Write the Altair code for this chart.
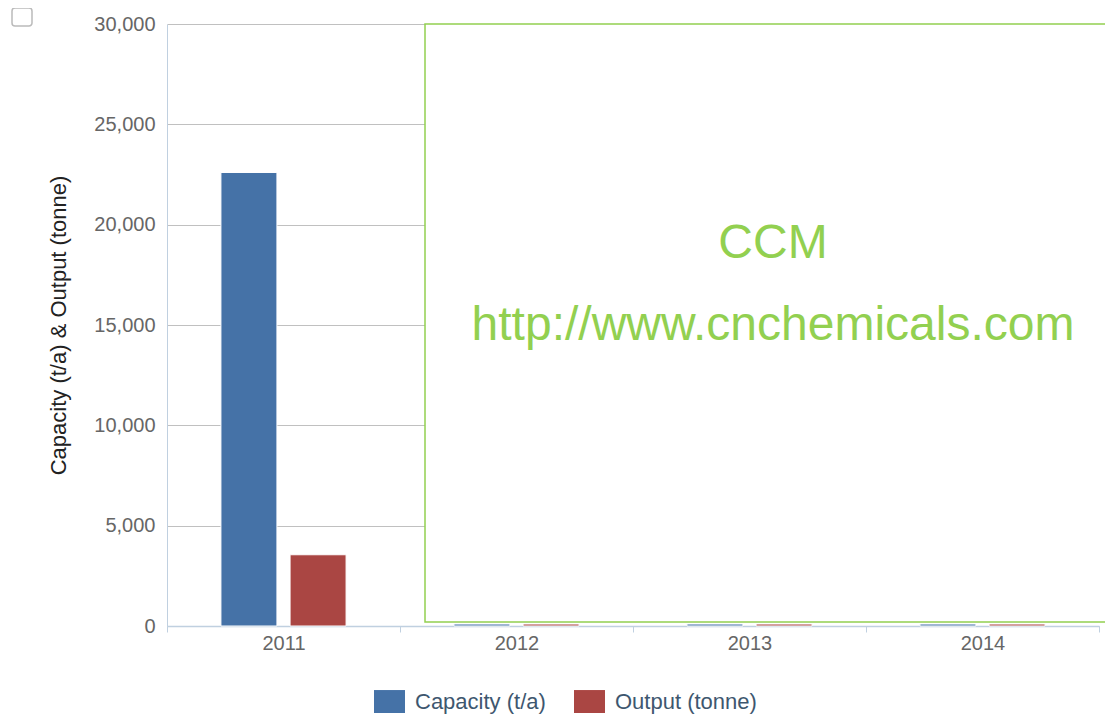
import altair as alt
import pandas as pd

years = ["2011", "2012", "2013", "2014"]
series = ["Capacity (t/a)", "Output (tonne)"]
capacity = [22600, 100, 100, 100]
output = [3550, 100, 100, 100]
colors = ["#4572A7", "#AA4643"]
y_ticks = [0, 5000, 10000, 15000, 20000, 25000, 30000]
y_title = "Capacity (t/a) & Output (tonne)"
watermark = ["CCM", "http://www.cnchemicals.com"]

rows = []
for i, yr in enumerate(years):
    rows.append({"year": yr, "series": series[0], "value": capacity[i]})
    rows.append({"year": yr, "series": series[1], "value": output[i]})
df = pd.DataFrame(rows)

W, H = 932, 602
FONT = "Liberation Sans"

x = alt.X("year:N", sort=years, scale=alt.Scale(paddingInner=0, paddingOuter=0),
          axis=alt.Axis(title=None, labelAngle=0, labelFontSize=20, labelColor="#666666",
                        labelFont=FONT, labelPadding=1, tickBand="extent", tickSize=6,
                        tickColor="#C0D0E0", domainColor="#C0D0E0", domainWidth=1.5, grid=False))
xo = alt.XOffset("series:N", sort=series, scale=alt.Scale(paddingInner=0.19, paddingOuter=0.78))
y = alt.Y("value:Q", scale=alt.Scale(domain=[0, 30000], nice=False),
          axis=alt.Axis(values=y_ticks, format=",d", title=y_title, titleFontSize=22,
                        titleFont=FONT, titleColor="#222222", titleFontWeight="normal",
                        titleAngle=270, titleX=-109, titleY=301, titleAlign="center",
                        titleBaseline="middle", labelFontSize=20, labelColor="#666666",
                        labelFont=FONT, labelPadding=12, ticks=False, gridColor="#C0C0C0",
                        domainColor="#C0D0E0"))
color = alt.Color("series:N", sort=series, scale=alt.Scale(domain=series, range=colors),
                  legend=alt.Legend(orient="none", legendX=207, legendY=662, direction="horizontal",
                                    title=None, symbolType="M-1,-0.74H1V0.74H-1Z", symbolSize=961,
                                    symbolStrokeWidth=0, symbolOpacity=1, labelFontSize=22,
                                    labelFont=FONT, labelColor="#3E576F", labelOffset=10,
                                    columnPadding=28, padding=0))

shadow = alt.Chart(df).mark_bar(color="#000000", opacity=0.1, xOffset=2).encode(x=x, xOffset=xo, y=y)
bars = alt.Chart(df).mark_bar(stroke="white", strokeWidth=1).encode(x=x, xOffset=xo, y=y, color=color)

box = alt.Chart(alt.Data(values=[{}])).mark_rect(fill="white", stroke="#92D050", strokeWidth=1.5).encode(
    x=alt.value(258), x2=alt.value(975), y=alt.value(0), y2=alt.value(598))
t1 = alt.Chart(alt.Data(values=[{"t": watermark[0]}])).mark_text(
    font=FONT, fontSize=48, color="#92D050", align="center", baseline="middle").encode(
    text="t:N", x=alt.value(606), y=alt.value(220))
t2 = alt.Chart(alt.Data(values=[{"t": watermark[1]}])).mark_text(
    font=FONT, fontSize=48, color="#92D050", align="center", baseline="middle").encode(
    text="t:N", x=alt.value(606), y=alt.value(302))
checkbox = alt.Chart(alt.Data(values=[{}])).mark_rect(
    fill="white", stroke="#BBBBBB", strokeWidth=1.5, cornerRadius=3).encode(
    x=alt.value(-155), x2=alt.value(-135), y=alt.value(-16), y2=alt.value(2))

chart = alt.layer(shadow, bars, box, t1, t2, checkbox).properties(
    width=W, height=H,
    autosize=alt.AutoSizeParams(type="none"),
    padding={"left": 159, "top": 16, "right": 6, "bottom": 93},
).configure_view(stroke=None)

chart.save("out.html", embed_options={"renderer": "svg", "actions": False})
